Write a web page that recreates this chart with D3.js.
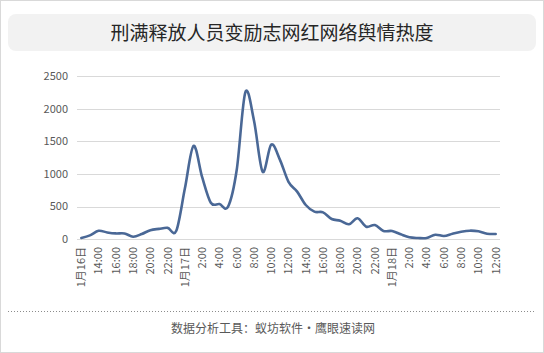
<!DOCTYPE html>
<html>
<head>
<meta charset="utf-8">
<script src="https://cdn.jsdelivr.net/npm/d3@7"></script>
<style>
  body { margin: 0; background: #fff; }
  text { font-family: "Noto Sans CJK SC", "Noto Sans", sans-serif; }
</style>
</head>
<body>
<div id="chart"></div>
<script>
// tick labels every 2 hours, data hourly from 1/16 12:00 to 1/18 12:00
const tickLabels = ["1月16日", "14:00", "16:00", "18:00", "20:00", "22:00",
  "1月17日", "2:00", "4:00", "6:00", "8:00", "10:00", "12:00", "14:00", "16:00", "18:00", "20:00", "22:00",
  "1月18日", "2:00", "4:00", "6:00", "8:00", "10:00", "12:00"];

const heat = [20, 60, 130, 105, 90, 90, 40, 80, 140, 160, 175, 130,
  780, 1430, 950, 560, 540, 500, 1060, 2250, 1820, 1035, 1450, 1220,
  880, 730, 525, 423, 413, 311, 285, 230, 322, 193, 219, 127,
  127, 76, 30, 20, 20, 70, 50, 86, 116, 132, 122, 86, 81];

const yTicks = [0, 500, 1000, 1500, 2000, 2500];

const width = 544, height = 353;
const svg = d3.select("#chart").append("svg").attr("width", width).attr("height", height);

// frame
svg.append("rect").attr("x", 0.5).attr("y", 0.5).attr("width", width - 1).attr("height", height - 1)
  .attr("fill", "#fff").attr("stroke", "#d9d9d9");

// title
svg.append("rect").attr("x", 8).attr("y", 14).attr("width", 528).attr("height", 37).attr("rx", 8)
  .attr("fill", "#f2f2f2");
svg.append("text").attr("x", 272).attr("y", 33).attr("dy", "0.35em").attr("text-anchor", "middle")
  .attr("font-size", 19).attr("fill", "#262626").text("刑满释放人员变励志网红网络舆情热度");

const x = d3.scalePoint().domain(d3.range(heat.length)).range([77, 500]).padding(0.5);
const y = d3.scaleLinear().domain([0, 2500]).range([239.3, 76]);

// grid
svg.append("g").selectAll("line").data(yTicks).join("line")
  .attr("x1", 77).attr("x2", 500)
  .attr("y1", d => Math.round(y(d)) + 0.5).attr("y2", d => Math.round(y(d)) + 0.5)
  .attr("stroke", "#d9d9d9");

svg.append("g").selectAll("text").data(yTicks).join("text")
  .attr("x", 68).attr("y", d => y(d)).attr("dy", "0.35em").attr("text-anchor", "end")
  .attr("font-size", 11).attr("fill", "#595959").text(d => d);

// x labels
svg.append("g").selectAll("text").data(tickLabels).join("text")
  .attr("transform", (d, i) => `translate(${x(i * 2)},247) rotate(-90)`)
  .attr("dy", "0.35em").attr("text-anchor", "end")
  .attr("font-size", 11).attr("fill", "#595959").text(d => d);

// line
const line = d3.line().x((d, i) => x(i)).y(d => y(d)).curve(d3.curveCatmullRom.alpha(0));
svg.append("path").datum(heat).attr("d", line)
  .attr("fill", "none").attr("stroke", "#4a6896").attr("stroke-width", 2.6)
  .attr("stroke-linejoin", "round").attr("stroke-linecap", "round");

// footer
svg.append("line").attr("x1", 8).attr("x2", 536).attr("y1", 311.5).attr("y2", 311.5)
  .attr("stroke", "#8c8c8c").attr("stroke-dasharray", "1,2");
svg.append("text").attr("x", 273).attr("y", 329).attr("dy", "0.35em").attr("text-anchor", "middle")
  .attr("font-size", 12).attr("fill", "#595959").text("数据分析工具：蚁坊软件·鹰眼速读网");
</script>
</body>
</html>
